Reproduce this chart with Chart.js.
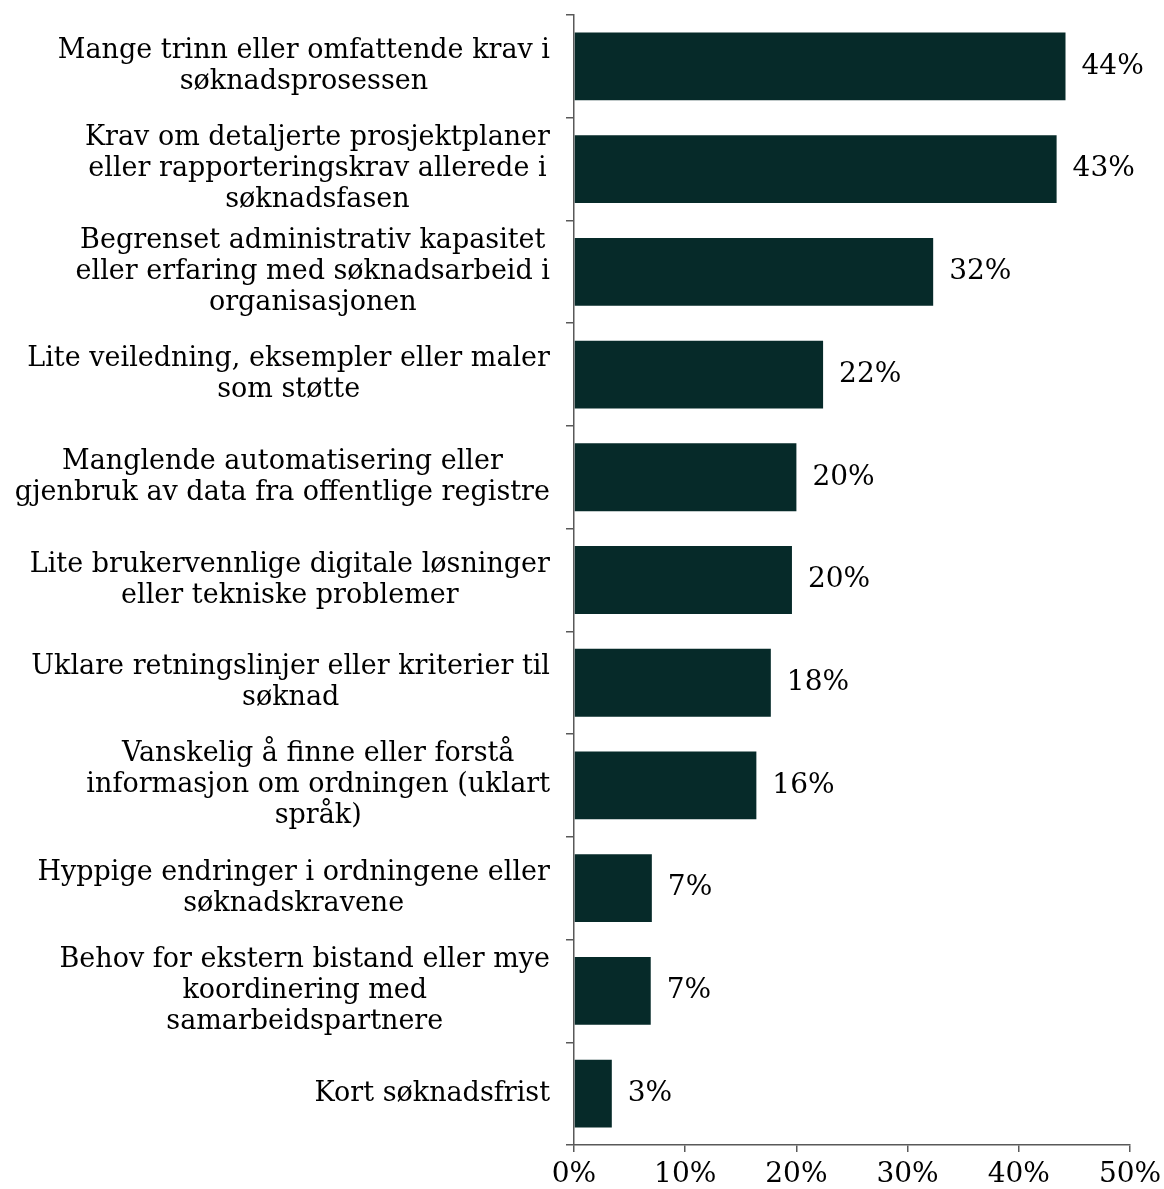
<!DOCTYPE html>
<html>
<head>
<meta charset="utf-8">
<script src="https://cdn.jsdelivr.net/npm/chart.js@4/dist/chart.umd.min.js"></script>
<style>
  body { margin: 0; background: #fff; }
</style>
</head>
<body>
<canvas id="bar-chart" width="1164" height="1189"></canvas>
<script>
// categories, one array of lines per bar
var categories = [
    ["Mange trinn eller omfattende krav i", "søknadsprosessen"],
    ["Krav om detaljerte prosjektplaner", "eller rapporteringskrav allerede i", "søknadsfasen"],
    ["Begrenset administrativ kapasitet", "eller erfaring med søknadsarbeid i", "organisasjonen"],
    ["Lite veiledning, eksempler eller maler", "som støtte"],
    ["Manglende automatisering eller", "gjenbruk av data fra offentlige registre"],
    ["Lite brukervennlige digitale løsninger", "eller tekniske problemer"],
    ["Uklare retningslinjer eller kriterier til", "søknad"],
    ["Vanskelig å finne eller forstå", "informasjon om ordningen (uklart", "språk)"],
    ["Hyppige endringer i ordningene eller", "søknadskravene"],
    ["Behov for ekstern bistand eller mye", "koordinering med", "samarbeidspartnere"],
    ["Kort søknadsfrist"]
];
var shares = [44.2, 43.4, 32.3, 22.4, 20.0, 19.6, 17.7, 16.4, 7.0, 6.9, 3.4];
var xTicks = [0, 10, 20, 30, 40, 50];

var FONT = "'DejaVu Serif', Georgia, serif";
var AXIS = '#595959';

// draws the wrapped category labels (right aligned block, centered lines) and value labels
var labelPlugin = {
    id: 'labels',
    afterDatasetsDraw: function (chart) {
        var ctx = chart.ctx;
        var y = chart.scales.y;
        var meta = chart.getDatasetMeta(0);
        ctx.save();
        ctx.fillStyle = '#000';
        ctx.textBaseline = 'middle';

        ctx.font = '27px ' + FONT;
        var right = chart.chartArea.left - 24;
        var lh = 31;
        categories.forEach(function (lines, i) {
            var cy = y.getPixelForValue(i);
            var w = 0;
            lines.forEach(function (l) { w = Math.max(w, ctx.measureText(l).width); });
            var cx = right - w / 2;
            ctx.textAlign = 'center';
            lines.forEach(function (l, j) {
                ctx.fillText(l, cx, cy + (j - (lines.length - 1) / 2) * lh);
            });
        });

        ctx.font = '28px ' + FONT;
        ctx.textAlign = 'left';
        meta.data.forEach(function (bar, i) {
            ctx.fillText(Math.round(shares[i]) + '%', bar.x + 16, bar.y);
        });
        ctx.restore();
    }
};

new Chart(document.getElementById("bar-chart").getContext("2d"), {
    type: 'bar',
    data: {
        labels: categories.map(function (c) { return c.join(' '); }),
        datasets: [
            {
                data: shares,
                backgroundColor: '#062a29',
                barPercentage: 0.66,
                categoryPercentage: 1
            }
        ]
    },
    options: {
        indexAxis: 'y',
        responsive: false,
        animation: false,
        layout: {padding: {top: 15, right: 34}},
        plugins: {
            legend: {display: false},
            tooltip: {enabled: false}
        },
        scales: {
            x: {
                min: 0,
                max: 50,
                afterFit: function (s) {
                    s.height = 44;
                    s.paddingLeft = 0;
                    s.paddingRight = 0;
                },
                afterBuildTicks: function (s) { s.ticks = xTicks.map(function (v) { return {value: v}; }); },
                grid: {drawOnChartArea: false, drawTicks: true, tickLength: 7, color: AXIS, lineWidth: 1.5},
                border: {display: true, color: AXIS, width: 1.5},
                ticks: {
                    color: '#000',
                    font: {family: FONT, size: 28},
                    padding: 6,
                    callback: function (v) { return v + '%'; }
                }
            },
            y: {
                afterFit: function (s) { s.width = 574; },
                grid: {drawOnChartArea: false, drawTicks: true, tickLength: 8, color: AXIS, lineWidth: 1.5, offset: true},
                border: {display: true, color: AXIS, width: 1.5},
                ticks: {display: false}
            }
        }
    },
    plugins: [labelPlugin]
});
</script>
</body>
</html>
